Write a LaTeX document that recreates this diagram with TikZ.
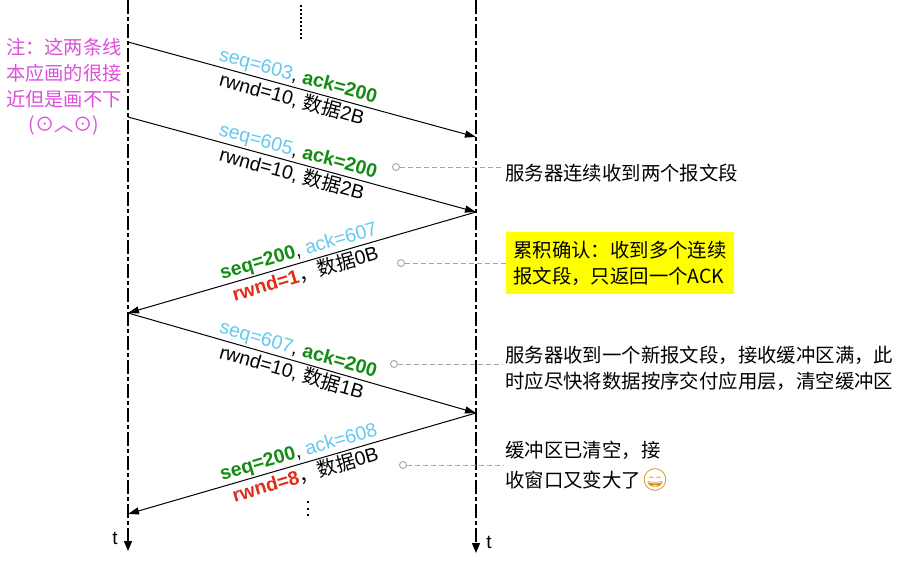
\documentclass[tikz,border=0pt]{standalone}
\usepackage{fontspec}
\setmainfont{Liberation Sans}
\newfontfamily\cjk{Noto Sans CJK SC}
\newfontfamily\emo{Noto Emoji}
\usetikzlibrary{arrows.meta}
\definecolor{seqblue}{RGB}{100,200,240}
\definecolor{ackgreen}{RGB}{20,140,20}
\definecolor{wred}{RGB}{225,45,25}
\definecolor{notepink}{RGB}{218,80,218}
\definecolor{hlyellow}{RGB}{255,255,0}
\definecolor{linkgray}{RGB}{165,165,165}
\definecolor{emoorange}{RGB}{215,140,10}
\begin{document}
\begin{tikzpicture}[x=1pt,y=-1pt,
  timeline/.style={line width=1.3pt, dash pattern=on 14pt off 3pt on 4pt off 3pt, -{Triangle[length=10pt,width=8pt]}},
  msg/.style={line width=1pt, -{Triangle[length=11pt,width=7pt]}},
  lab/.style={font=\fontsize{19.5}{22}\selectfont, inner sep=1.5pt, sloped},
  note/.style={font=\cjk\fontsize{19.4}{26}\selectfont, align=left, anchor=west, inner sep=2pt},
  link/.style={linkgray, line width=0.9pt, dash pattern=on 5pt off 3pt},
  dotc/.style={draw=linkgray, fill=white, line width=0.9pt, circle, inner sep=0pt, minimum size=7pt},
  dotline/.style={line width=2pt, dash pattern=on 1.8pt off 2.2pt},
  tlab/.style={font=\fontsize{19}{22}\selectfont, inner sep=0pt},
  ]
\useasboundingbox (0,0) rectangle (897,562);
% timelines
\coordinate (ctop) at (128,0);
\coordinate (cbot) at (128,551);
\coordinate (stop) at (476,0);
\coordinate (sbot) at (476,553);
\draw[timeline] (ctop) -- (cbot);
\draw[timeline] (stop) -- (sbot);
\node[tlab] (tc) at (115,538) {t};
\node[tlab] (ts) at (489,542) {t};
% message endpoints
\coordinate (a1) at (128,42);
\coordinate (b1) at (476,137);
\coordinate (a2) at (128,117);
\coordinate (b2) at (476,212);
\coordinate (a3) at (128,313);
\coordinate (b3) at (476,413);
\coordinate (a4) at (128,514);
% messages
\draw[msg] (a1) -- node[lab, above, pos=0.48] (l1a) {{\color{seqblue}seq=603}, {\bfseries\color{ackgreen}ack=200}}
                   node[lab, below, pos=0.48] (l1b) {rwnd=10, {\cjk 数据}2B} (b1);
\draw[msg] (a2) -- node[lab, above, pos=0.48] (l2a) {{\color{seqblue}seq=605}, {\bfseries\color{ackgreen}ack=200}}
                   node[lab, below, pos=0.48] (l2b) {rwnd=10, {\cjk 数据}2B} (b2);
\draw[msg] (b2) -- node[lab, above, pos=0.5] (l3a) {{\bfseries\color{ackgreen}seq=200}, {\color{seqblue}ack=607}}
                   node[lab, below, pos=0.5] (l3b) {{\bfseries\color{wred}rwnd=1}{\cjk ，数据}0B} (a3);
\draw[msg] (a3) -- node[lab, above, pos=0.48] (l4a) {{\color{seqblue}seq=607}, {\bfseries\color{ackgreen}ack=200}}
                   node[lab, below, pos=0.48] (l4b) {rwnd=10, {\cjk 数据}1B} (b3);
\draw[msg] (b3) -- node[lab, above, pos=0.5] (l5a) {{\bfseries\color{ackgreen}seq=200}, {\color{seqblue}ack=608}}
                   node[lab, below, pos=0.5] (l5b) {{\bfseries\color{wred}rwnd=8}{\cjk ，数据}0B} (a4);
% ellipsis dots
\coordinate (d1) at (301,5);
\coordinate (d2) at (301,40);
\draw[dotline] (d1) -- (d2);
\coordinate (d3) at (308,501);
\coordinate (d4) at (308,517);
\draw[dotline, dash pattern=on 2pt off 4.5pt] (d3) -- (d4);
% left note
\node[font=\cjk\fontsize{19.3}{25.8}\selectfont, text=notepink, align=center, inner sep=0pt] (lnote) at (64,87)
  {注：这两条线\\本应画的很接\\近但是画不下\\(⊙︿⊙)};
% annotations
\node[note] (t1) at (503,173) {服务器连续收到两个报文段};
\node[note, fill=hlyellow, inner xsep=7pt, inner ysep=9pt] (t2) at (506,263) {累积确认：收到多个连续\\报文段，只返回一个ACK};
\node[note] (t3) at (503,368) {服务器收到一个新报文段，接收缓冲区满，此\\时应尽快将数据按序交付应用层，清空缓冲区};
\node[note, font=\cjk\fontsize{19.4}{30}\selectfont] (t4) at (503,466) {缓冲区已清空，接\\收窗口又变大了{\emo\fontsize{22}{30}\selectfont\color{emoorange}😄}};
\node[dotc] (k1) at (396,167) {};
\node[dotc] (k2) at (401,263) {};
\node[dotc] (k3) at (394,364) {};
\node[dotc] (k4) at (403,465) {};
\draw[link] (k1) -- (k1 -| t1.west);
\draw[link] (k2) -- (k2 -| t2.west);
\draw[link] (k3) -- (k3 -| t3.west);
\draw[link] (k4) -- (k4 -| t4.west);
\end{tikzpicture}
\end{document}
